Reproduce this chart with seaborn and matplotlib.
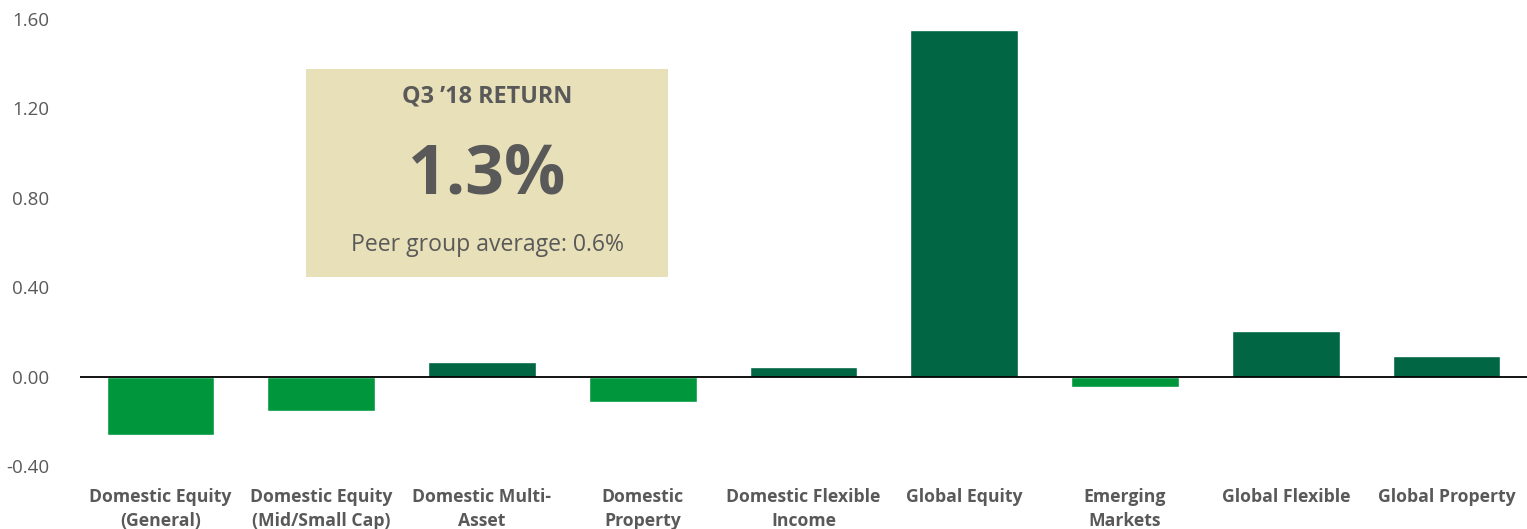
import matplotlib
matplotlib.use("Agg")
import matplotlib.pyplot as plt
import seaborn as sns
import pandas as pd
from matplotlib.patches import Rectangle

categories = ["Domestic Equity\n(General)", "Domestic Equity\n(Mid/Small Cap)", "Domestic Multi-\nAsset",
              "Domestic\nProperty", "Domestic Flexible\nIncome", "Global Equity", "Emerging\nMarkets",
              "Global Flexible", "Global Property"]
values = [-0.26, -0.152, 0.064, -0.115, 0.045, 1.553, -0.048, 0.203, 0.094]
yticks = [-0.40, 0.00, 0.40, 0.80, 1.20, 1.60]
box_title = "Q3 \u201918 RETURN"
box_value = "1.3%"
box_sub = "Peer group average: 0.6%"

sns.set_theme(style="white")
plt.rcParams['font.family'] = ['Open Sans', 'DejaVu Sans']

df = pd.DataFrame({"cat": categories, "val": values,
                   "sign": ["neg" if v < 0 else "pos" for v in values]})

fig = plt.figure(figsize=(15.27, 5.29), dpi=100)
ax = fig.add_axes([80/1527, 1-466/529, 1-80/1527, (466-19)/529])
sns.barplot(data=df, x="cat", y="val", hue="sign", palette={"neg": "#00963C", "pos": "#006644"},
            dodge=False, legend=False, width=0.67, ax=ax, saturation=1)
ax.set_xlim(-0.5, 8.5)
ax.set_ylim(-0.4, 1.6)
ax.set_yticks(yticks)
ax.set_yticklabels([f"{t:.2f}" for t in yticks], fontsize=13.5, color="#595959")
ax.set_xticks(range(len(categories)))
ax.set_xticklabels(categories, fontsize=12.7, fontweight="bold", color="#595959", linespacing=1.4)
ax.tick_params(axis="y", length=0, pad=22)
ax.tick_params(axis="x", length=0, pad=16)
ax.set_xlabel("")
ax.set_ylabel("")
for s in ax.spines.values():
    s.set_visible(False)
ax.axhline(0, color="black", linewidth=1.3, zorder=3)

bx, by, bw, bh = (306-80)/1447, (466-277)/447, 362/1447, (277-69)/447
ax.add_patch(Rectangle((bx, by), bw, bh, transform=ax.transAxes, facecolor="#E8E0B8",
                       edgecolor="none", zorder=4, clip_on=False))
cx = bx + bw/2
ax.text(cx, (466-96)/447, box_title, transform=ax.transAxes, ha="center", va="center",
        fontsize=16.8, fontweight="bold", color="#595959", zorder=5)
ax.text(cx, (466-175)/447, box_value, transform=ax.transAxes, ha="center", va="center",
        fontsize=49, fontweight="bold", color="#595959", zorder=5)
ax.text(cx, (466-245)/447, box_sub, transform=ax.transAxes, ha="center", va="center",
        fontsize=16.6, color="#595959", zorder=5)

fig.savefig("out.png", dpi=100)
